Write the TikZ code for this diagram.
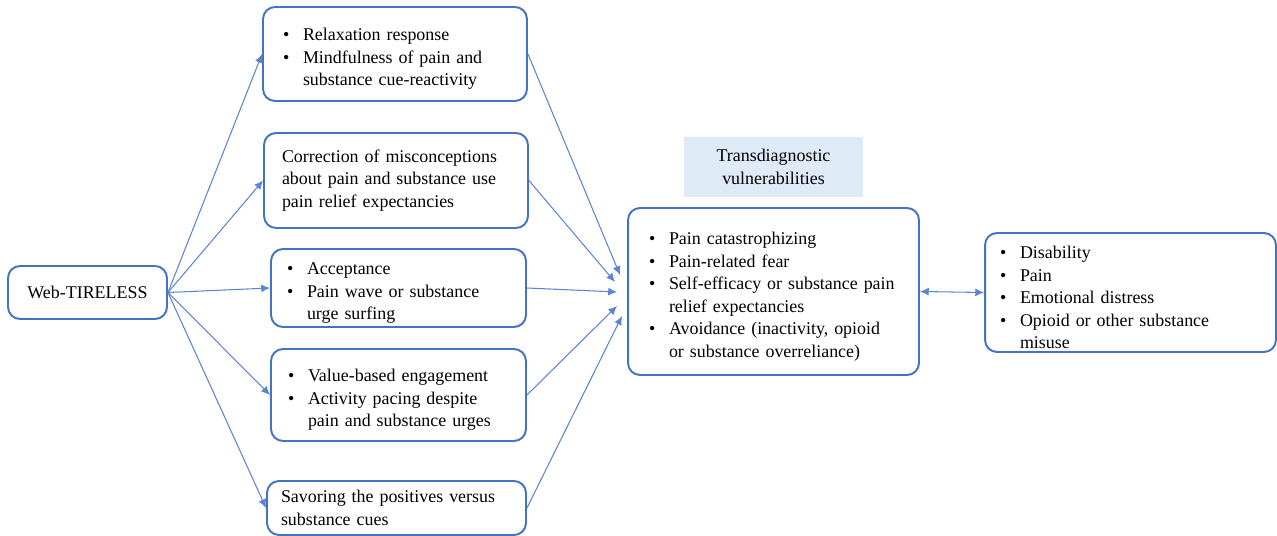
\documentclass[tikz,border=0pt]{standalone}
\usepackage{fontspec}
\setmainfont{Liberation Serif}
\usepackage{xcolor}
\usepackage{tikz}
\usetikzlibrary{arrows.meta, positioning, calc}

\definecolor{boxblue}{HTML}{4472C4}
\definecolor{lineblue}{HTML}{5B85D0}
\definecolor{labelfill}{HTML}{DEEBF7}

\newcommand{\bitem}{\par\noindent\hangindent=0.4cm\hangafter=1\makebox[0.4cm][l]{\textbullet}}

\begin{document}
\begin{tikzpicture}[x=0.02cm,y=-0.02cm,
    font=\fontsize{10.2}{12.8}\selectfont,
    blk/.style={draw=boxblue, line width=1.1pt, rounded corners=0.24cm,
        inner xsep=0pt, inner ysep=0pt, align=left},
    tag/.style={fill=labelfill, inner sep=0pt, align=center},
    link/.style={draw=lineblue, line width=0.6pt, -{Latex[length=5pt,width=4.5pt]}}]

        %=====================
        % Frame
        %=====================
        \useasboundingbox (0,0) rectangle (1277,536);

        %=====================
        % Program
        %=====================
        \node[blk, minimum width=3.18cm, minimum height=1.06cm] (web) at (87.5,292.5)
        {Web-TIRELESS};

        %=====================
        % Intervention components
        %=====================
        \node[blk, minimum width=5.28cm, minimum height=1.88cm, text width=4.48cm] (relax) at (395,54)
        {\bitem Relaxation response
         \bitem Mindfulness of pain and\newline substance cue-reactivity\par};

        \node[blk, minimum width=5.28cm, minimum height=1.90cm, text width=4.56cm] (correct) at (396,180.5)
        {Correction of misconceptions\\about pain and substance use\\pain relief expectancies};

        \node[blk, minimum width=5.10cm, minimum height=1.56cm, text width=4.46cm] (accept) at (398.5,288)
        {\bitem Acceptance
         \bitem Pain wave or substance\newline urge surfing\par};

        \node[blk, minimum width=5.10cm, minimum height=1.84cm, text width=4.42cm] (value) at (398.5,395)
        {\bitem Value-based engagement
         \bitem Activity pacing despite\newline pain and substance urges\par};

        \node[blk, minimum width=5.18cm, minimum height=1.08cm, text width=4.62cm] (savor) at (396.5,508)
        {Savoring the positives versus\\substance cues};

        %=====================
        % Transdiagnostic vulnerabilities
        %=====================
        \node[tag, minimum width=3.58cm, minimum height=1.20cm] (label) at (773.5,167)
        {Transdiagnostic\\vulnerabilities};

        \node[blk, minimum width=5.82cm, minimum height=3.34cm, text width=4.98cm] (vuln) at (773.5,291.5)
        {\bitem Pain catastrophizing
         \bitem Pain-related fear
         \bitem Self-efficacy or substance pain\newline relief expectancies
         \bitem Avoidance (inactivity, opioid\newline or substance overreliance)\par};

        %=====================
        % Outcomes
        %=====================
        \node[blk, minimum width=5.82cm, minimum height=2.38cm, text width=5.22cm] (outcome) at (1130.5,292.5)
        {\bitem Disability
         \bitem Pain
         \bitem Emotional distress
         \bitem Opioid or other substance\newline misuse\par};

        %=====================
        % Arrows
        %=====================
        \coordinate (in1) at (620,275);
        \coordinate (in2) at (615,282);
        \coordinate (in3) at (617,292);
        \coordinate (in4) at (617,306);
        \coordinate (in5) at (622,316);

        \foreach \t in {relax, correct, accept, value, savor}
            \draw[link] (web.east) -- (\t.west);

        \draw[link] (relax.east) -- (in1);
        \draw[link] (correct.east) -- (in2);
        \draw[link] (accept.east) -- (in3);
        \draw[link] (value.east) -- (in4);
        \draw[link] (savor.east) -- (in5);

        \draw[link, {Latex[length=5pt,width=4.5pt]}-{Latex[length=5pt,width=4.5pt]}]
        (vuln.east) -- (outcome.west);

\end{tikzpicture}
\end{document}
